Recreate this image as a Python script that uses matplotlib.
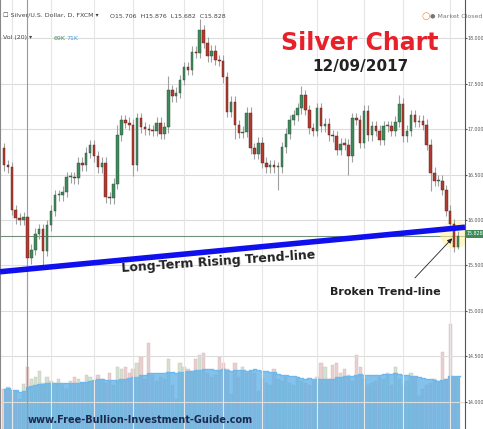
import numpy as np
import pandas as pd
import matplotlib.pyplot as plt

# daily closes (opens = previous close)
first_open = 16.79
closes = [16.60, 16.58, 16.11, 16.02, 16.00, 16.03, 15.58, 15.67, 15.85, 15.90,
          15.66, 15.94, 16.10, 16.27, 16.27, 16.31, 16.47, 16.47, 16.46, 16.63,
          16.60, 16.74, 16.82, 16.70, 16.58, 16.63, 16.25, 16.24, 16.40, 16.93,
          17.10, 17.07, 17.05, 16.60, 17.12, 17.02, 17.00, 16.99, 16.98, 17.07,
          16.95, 17.02, 17.43, 17.36, 17.40, 17.54, 17.68, 17.65, 17.85, 17.84,
          18.09, 17.95, 17.80, 17.86, 17.76, 17.75, 17.57, 17.19, 17.30, 17.04,
          16.96, 16.97, 17.18, 16.79, 16.73, 16.85, 16.63, 16.58, 16.60, 16.58,
          16.58, 16.80, 16.95, 17.10, 17.15, 17.23, 17.37, 17.21, 17.01, 16.98,
          17.23, 17.03, 17.06, 16.93, 16.92, 16.77, 16.84, 16.83, 16.70, 17.12,
          17.10, 16.85, 17.20, 16.93, 17.03, 16.98, 16.88, 17.03, 17.03, 16.98,
          17.08, 17.28, 16.92, 16.98, 17.15, 17.08, 17.09, 17.05, 16.83, 16.52,
          16.43, 16.43, 16.33, 16.10, 15.95, 15.706, 15.828]
# upper / lower wick lengths (notable ones only, rest typical)
wick_up = {6: 0.10, 29: 0.12, 42: 0.15, 50: 0.12, 76: 0.10, 101: 0.10, 116: 0.05}
wick_dn = {6: 0.40, 10: 0.20, 33: 0.12, 59: 0.15, 70: 0.25, 88: 0.20, 109: 0.20, 116: 0.03}
volumes = [40, 42, 36, 38, 30, 45, 62, 50, 52, 58, 46, 52, 48, 46, 50, 44, 40, 48, 52, 50,
           46, 54, 52, 48, 54, 50, 46, 56, 44, 62, 60, 62, 56, 60, 66, 72, 50, 86, 54, 48,
           52, 50, 70, 44, 30, 66, 62, 60, 58, 70, 74, 76, 56, 52, 54, 72, 66, 60, 35, 66,
           52, 62, 56, 58, 56, 38, 50, 46, 44, 60, 50, 48, 52, 46, 44, 52, 48, 46, 44, 48,
           52, 66, 62, 50, 64, 66, 56, 60, 54, 48, 74, 62, 50, 44, 46, 48, 52, 50, 56, 44,
           62, 50, 44, 48, 56, 52, 33, 40, 44, 46, 50, 48, 77, 50, 105, 52, 52]
last_price = 15.828
trend_start, trend_end = 15.43, 15.92

n = len(closes)
idx = np.arange(n)
opens = [first_open] + closes[:-1]
opens[-1] = 15.706

W, H = 483, 429
fig = plt.figure(figsize=(W / 100, H / 100), dpi=100)
ax = fig.add_axes([0, 0, 465 / W, 1])
vax = ax.twinx()
ax.set_zorder(vax.get_zorder() + 1)
ax.patch.set_visible(False)

xmin = -1.02
xmax = xmin + 465 / 3.914
ax.set_xlim(xmin, xmax)
ax.set_ylim(13.70, 18.42)
vax.set_ylim(0, 430)

# volume bars + 20-day average
vcol = ["#cfe3cf" if c >= o else "#e9cfcf" for o, c in zip(opens, closes)]
vax.bar(idx, volumes, width=0.85, color=vcol, edgecolor="#d8b8b8", linewidth=0.3, zorder=1)
ma = pd.Series(volumes).rolling(20, min_periods=1).mean().to_numpy()
vax.fill_between(np.append(idx, n - 0.6), 0, np.append(ma, ma[-1]), step="mid",
                 color="#5aaee6", alpha=0.75, zorder=2, linewidth=0)
vax.plot(np.append(idx, n - 0.6), np.append(ma, ma[-1]), drawstyle="steps-mid",
         color="#6fb8ee", lw=1, zorder=3)
vax.set_yticks([])
for s in vax.spines.values():
    s.set_visible(False)

# grid
for y in np.arange(14.0, 18.01, 0.5):
    ax.axhline(y, color="#dcdcdc", lw=0.8, zorder=0)
for x in [2, 12, 23, 33, 46, 56, 66, 80, 92, 102, 114]:
    ax.axvline(x, color="#e6e6e6", lw=0.8, zorder=0)
ax.axvline(6, color="#9a9a9a", lw=0.8, zorder=0)
ax.axhline(last_price, color="#6f8f7a", lw=0.8, zorder=1)

# candles
for i in idx:
    o, c = opens[i], closes[i]
    up = c >= o
    hi = max(o, c) + wick_up.get(i, 0.06)
    lo = min(o, c) - wick_dn.get(i, 0.06)
    ax.vlines(i, lo, hi, color="#a0a0a0", lw=0.8, zorder=2)
    body = max(abs(c - o), 0.012)
    ax.bar(i, body, bottom=min(o, c), width=0.65,
           color="#3f8a5c" if up else "#b23a30",
           edgecolor="#2d4a36" if up else "#5a1e1a", linewidth=0.3, zorder=3)

# highlight glow at the break
ax.scatter([n - 2], [15.85], s=420, color="#fff3a0", alpha=0.6, zorder=1, linewidths=0)

# trend line
ax.plot([xmin, xmax], [trend_start, trend_end], color="#1010ee", lw=4, zorder=4,
        solid_capstyle="butt")

# axes styling
ax.yaxis.tick_right()
ax.set_yticks(np.arange(14.0, 18.01, 0.5))
ax.set_yticklabels([f"{v:.3f}" for v in np.arange(14.0, 18.01, 0.5)])
ax.tick_params(axis="y", labelsize=3.4, colors="#555555", length=1.5, pad=0.3)
ax.set_xticks([])
for s in ["top", "bottom"]:
    ax.spines[s].set_visible(False)
ax.spines["right"].set_color("#555555")
ax.spines["left"].set_color("#888888")

def px(x, y):
    return x / W, 1 - y / H

# price label box
fig.text(*px(466.5, 234), f"{last_price:.3f}", fontsize=3.4, color="white", va="center",
         ha="left", bbox=dict(boxstyle="square,pad=0.3", fc="#3d8a5b", ec="none"))

# headers
fig.text(*px(3, 16), "\u2610 Silver/U.S. Dollar, D, FXCM \u25be", fontsize=4.5, color="#444444", va="center")
fig.text(*px(110, 16), "O15.706  H15.876  L15.682  C15.828", fontsize=4.5, color="#444444", va="center")
fig.text(*px(3, 38), "Vol (20) \u25be", fontsize=4.5, color="#444444", va="center")
fig.text(*px(54, 38), "69K", fontsize=4.5, color="#3f8a5c", va="center")
fig.text(*px(66, 38), "71K", fontsize=4.5, color="#3aa0e0", va="center")
fig.text(*px(430, 16), "\u25cf Market Closed", fontsize=4.5, color="#777777", va="center")
fig.text(*px(426, 16), "\u25cb", fontsize=7, color="#f09040", va="center", ha="center")

fig.text(*px(360, 43), "Silver Chart", fontsize=17, fontweight="bold", color="#e8202a",
         ha="center", va="center")
fig.text(*px(360, 67), "12/09/2017", fontsize=11, fontweight="bold", color="#222222",
         ha="center", va="center")
fig.text(*px(218, 262), "Long-Term Rising Trend-line", fontsize=9, fontweight="bold",
         color="#222222", ha="center", va="center", rotation=4)
fig.text(*px(385, 292), "Broken Trend-line", fontsize=8, fontweight="bold",
         color="#222222", ha="center", va="center")
fig.text(*px(28, 420), "www.Free-Bullion-Investment-Guide.com", fontsize=7,
         fontweight="bold", color="#1c2a50", ha="left", va="center")

ax.annotate("", xy=(n - 2, 15.82), xytext=(104.5, 15.34),
            arrowprops=dict(arrowstyle="-|>", color="#222222", lw=0.6, mutation_scale=7),
            zorder=6)

fig.savefig("out.png", dpi=100)
